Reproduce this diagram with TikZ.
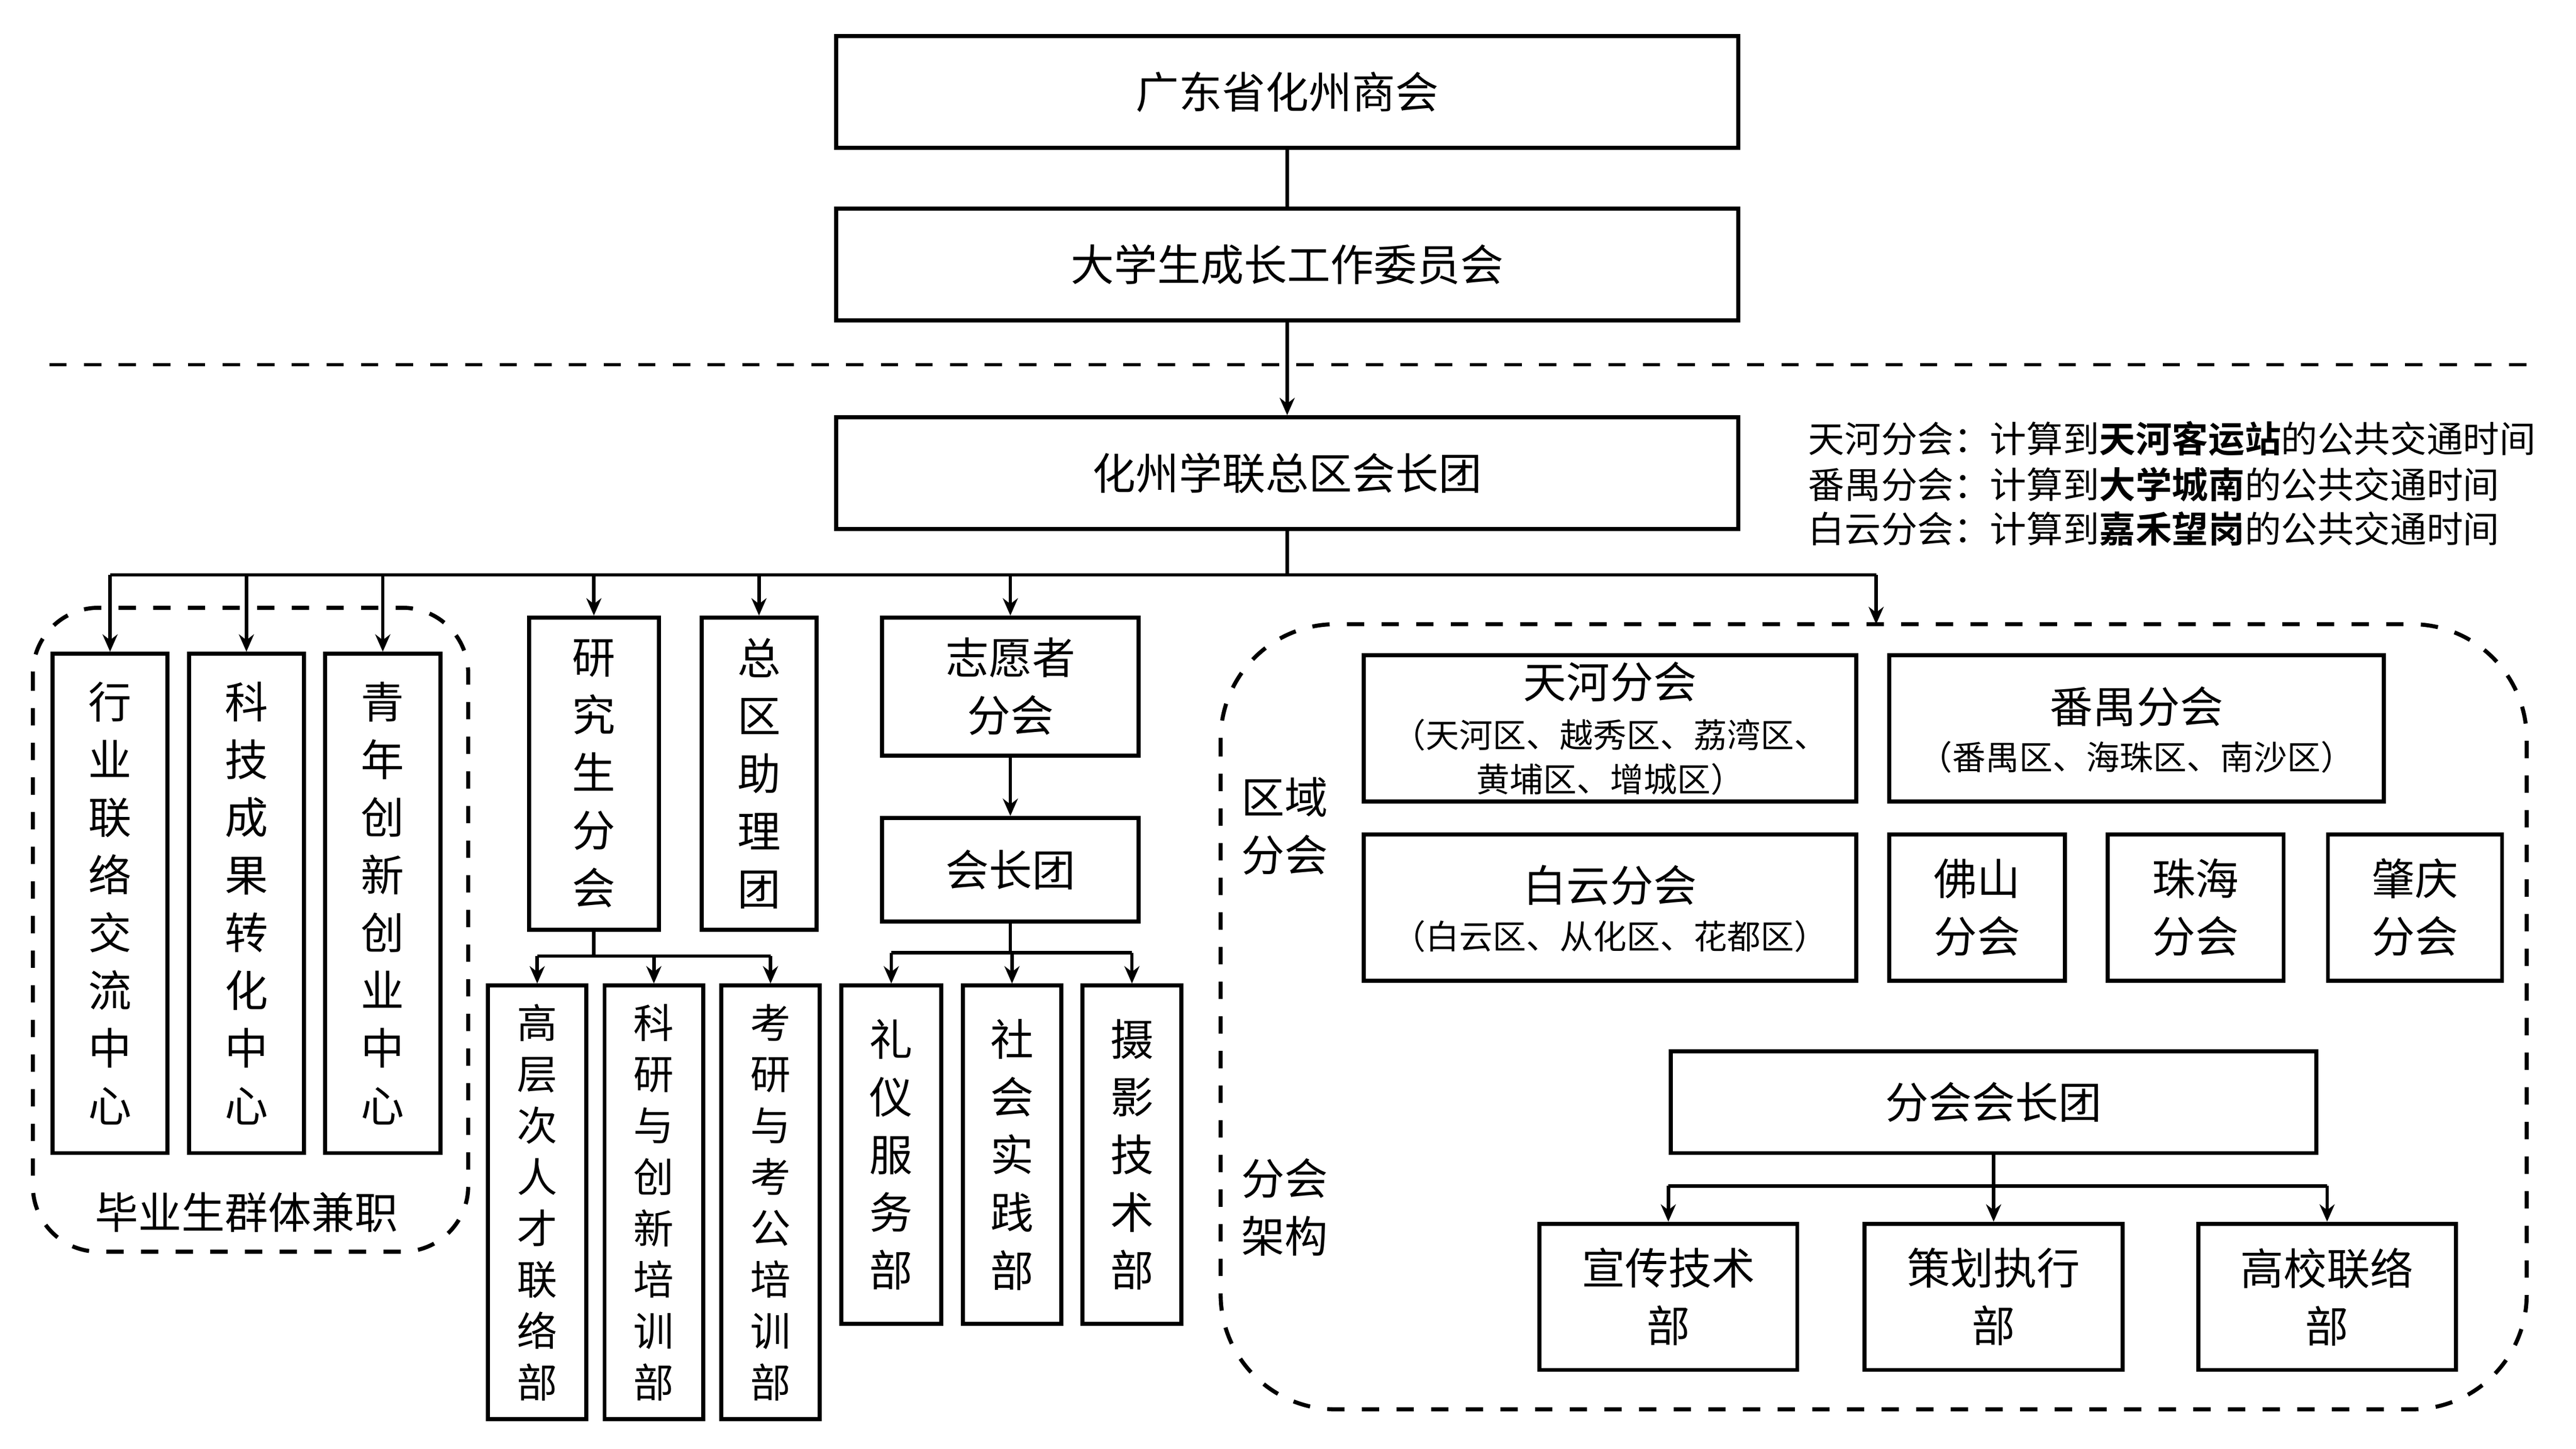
\documentclass[tikz,border=0pt]{standalone}
\usepackage{fontspec}
\setmainfont{Noto Sans CJK SC}[BoldFont={Noto Sans CJK SC Bold}]
\usetikzlibrary{arrows.meta}

\tikzset{
  box/.style={draw=black, line width=0.7pt, inner sep=0pt, align=center, font=\fontsize{7.5}{10}\selectfont},
  vbox/.style={box, font=\fontsize{7.5}{10}\selectfont},
  sbox/.style={box, font=\fontsize{7}{8.9}\selectfont},
  group/.style={draw=black, line width=0.7pt, dashed, rounded corners=7mm},
  link/.style={line width=0.6pt},
  arr/.style={link, -{Stealth[length=3pt,width=2.6pt]}},
  note/.style={anchor=west, inner sep=0pt, font=\fontsize{6.3}{7}\selectfont},
  plain/.style={inner sep=0pt, align=center, font=\fontsize{7.5}{10}\selectfont}
}

\begin{document}
\begin{tikzpicture}[x=0.1mm, y=0.1mm]
\useasboundingbox (0,0) rectangle (1568,-882);

  % top levels
  \node[box, minimum width=54.9mm, minimum height=6.8mm] (hq) at (783.5,-56) {广东省化州商会};
  \node[box, minimum width=54.9mm, minimum height=6.8mm] (wyh) at (783.5,-161) {大学生成长工作委员会};
  \draw[link] (hq) -- (wyh);
  \draw[link, dashed] (30,-222) -- (1540,-222);
  \node[box, minimum width=54.9mm, minimum height=6.8mm] (zhz) at (783.5,-288) {化州学联总区会长团};
  \draw[arr] (wyh) -- (zhz);

  % note
  \node[note] (n1) at (1100,-267) {天河分会：计算到\textbf{天河客运站}的公共交通时间};
  \node[note] (n2) at (1100,-295) {番禺分会：计算到\textbf{大学城南}的公共交通时间};
  \node[note] (n3) at (1100,-322) {白云分会：计算到\textbf{嘉禾望岗}的公共交通时间};

  % left group
  \draw[group, rounded corners=4mm] (20,-370) rectangle (285,-762);
  \node[vbox, minimum width=7mm, minimum height=30.4mm] (hy) at (67,-550) {行\\业\\联\\络\\交\\流\\中\\心};
  \node[vbox, minimum width=7mm, minimum height=30.4mm] (kj) at (150,-550) {科\\技\\成\\果\\转\\化\\中\\心};
  \node[vbox, minimum width=7mm, minimum height=30.4mm] (qn) at (233,-550) {青\\年\\创\\新\\创\\业\\中\\心};
  \node[plain] (byz) at (150,-738) {毕业生群体兼职};

  % graduate branch
  \node[vbox, minimum width=7.9mm, minimum height=19mm] (yjs) at (361.5,-471) {研\\究\\生\\分\\会};
  \node[vbox, minimum width=7mm, minimum height=19mm] (zq) at (462,-471) {总\\区\\助\\理\\团};
  \node[sbox, minimum width=6mm, minimum height=26.4mm] (gc) at (327,-732) {高\\层\\次\\人\\才\\联\\络\\部};
  \node[sbox, minimum width=6mm, minimum height=26.4mm] (ky) at (398,-732) {科\\研\\与\\创\\新\\培\\训\\部};
  \node[sbox, minimum width=6mm, minimum height=26.4mm] (kg) at (469,-732) {考\\研\\与\\考\\公\\培\\训\\部};

  % volunteer branch
  \node[box, minimum width=15.6mm, minimum height=8.4mm] (zyz) at (615,-418) {志愿者\\分会};
  \node[box, minimum width=15.6mm, minimum height=6.3mm] (hzt) at (615,-529.5) {会长团};
  \draw[arr] (zyz) -- (hzt);
  \node[vbox, minimum width=6.1mm, minimum height=20.6mm] (ly) at (542.5,-703) {礼\\仪\\服\\务\\部};
  \node[vbox, minimum width=6mm, minimum height=20.6mm] (sh) at (616,-703) {社\\会\\实\\践\\部};
  \node[vbox, minimum width=6mm, minimum height=20.6mm] (sy) at (689,-703) {摄\\影\\技\\术\\部};

  % right group
  \draw[group] (743,-380) rectangle (1538,-858);
  \coordinate (rgtop) at (1142,-380);
  \node[plain] (qy) at (782,-503) {区域\\分会};
  \node[plain] (jg) at (782,-735) {分会\\架构};
  \node[box, minimum width=30mm, minimum height=8.9mm] (th) at (980,-443.5) {};
  \node[plain] at (980,-415) {天河分会};
  \node[plain, font=\fontsize{5.8}{7.7}\selectfont] at (980,-461) {（天河区、越秀区、荔湾区、\\黄埔区、增城区）};
  \node[box, minimum width=30.1mm, minimum height=8.9mm] (py) at (1300.5,-443.5) {};
  \node[plain] at (1300.5,-430) {番禺分会};
  \node[plain, font=\fontsize{5.8}{7.7}\selectfont] at (1300.5,-461) {（番禺区、海珠区、南沙区）};
  \node[box, minimum width=30mm, minimum height=8.9mm] (by) at (980,-552.5) {};
  \node[plain] at (980,-539) {白云分会};
  \node[plain, font=\fontsize{5.8}{7.7}\selectfont] at (980,-570) {（白云区、从化区、花都区）};
  \node[box, minimum width=10.7mm, minimum height=8.9mm] (fs) at (1203.5,-552.5) {佛山\\分会};
  \node[box, minimum width=10.7mm, minimum height=8.9mm] (zh) at (1336.5,-552.5) {珠海\\分会};
  \node[box, minimum width=10.6mm, minimum height=8.9mm] (zqf) at (1470,-552.5) {肇庆\\分会};
  \node[box, minimum width=39.3mm, minimum height=6.2mm] (fhz) at (1213.5,-671) {分会会长团};
  \node[box, minimum width=15.7mm, minimum height=8.9mm] (xc) at (1015.5,-789.5) {宣传技术\\部};
  \node[box, minimum width=15.7mm, minimum height=8.9mm] (ch) at (1213.5,-789.5) {策划执行\\部};
  \node[box, minimum width=15.7mm, minimum height=8.9mm] (gx) at (1416.5,-789.5) {高校联络\\部};

  % main bus
  \coordinate (bus) at (783.5,-350);
  \draw[link] (zhz) -- (bus);
  \draw[link] (hy |- bus) -- (rgtop |- bus);
  \foreach \t in {hy,kj,qn,yjs,zq,zyz} \draw[arr] (\t |- bus) -- (\t.north);
  \draw[arr] (rgtop |- bus) -- (rgtop);

  % sub buses
  \coordinate (b1) at (361.5,-582);
  \draw[link] (yjs) -- (b1);
  \draw[link] (gc |- b1) -- (kg |- b1);
  \foreach \t in {gc,ky,kg} \draw[arr] (\t |- b1) -- (\t.north);
  \coordinate (b2) at (615,-580);
  \draw[link] (hzt) -- (b2);
  \draw[link] (ly |- b2) -- (sy |- b2);
  \foreach \t in {ly,sh,sy} \draw[arr] (\t |- b2) -- (\t.north);
  \coordinate (b3) at (1213.5,-722);
  \draw[link] (fhz) -- (b3);
  \draw[link] (xc |- b3) -- (gx |- b3);
  \foreach \t in {xc,ch,gx} \draw[arr] (\t |- b3) -- (\t.north);
\end{tikzpicture}
\end{document}
